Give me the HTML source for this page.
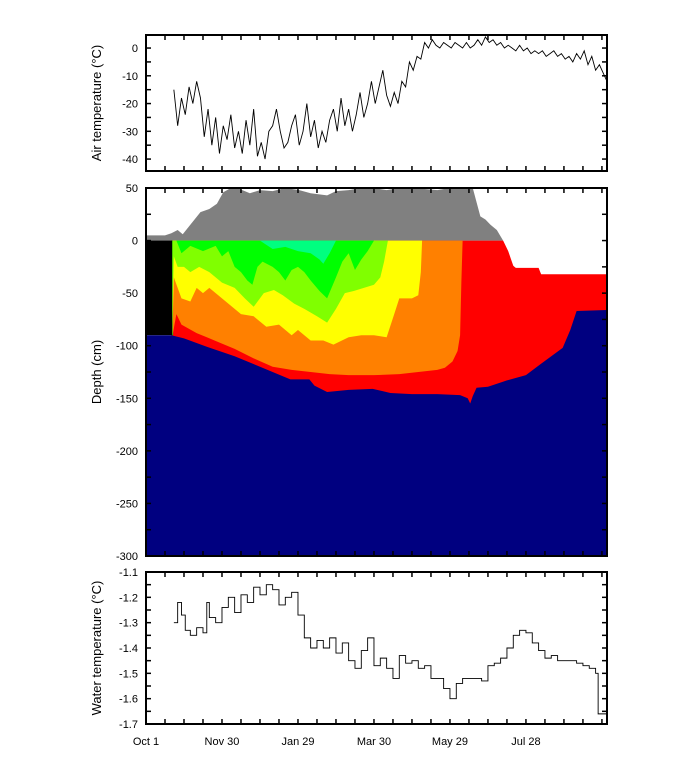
<!DOCTYPE html>
<html><head><meta charset="utf-8"><style>
html,body{margin:0;padding:0;background:#fff;width:681px;height:783px;overflow:hidden}
text{font-family:"Liberation Sans",Arial,sans-serif;font-size:11px;fill:#000}
.t{font-size:13px}
</style></head><body>
<svg id="c" width="681" height="783" viewBox="0 0 681 783"></svg>
<script>
// ---------- data ----------
const xTickDays=[0,60,120,180,240,300];
const xTickLabels=["Oct 1","Nov 30","Jan 29","Mar 30","May 29","Jul 28"];
const airDays=[22,25,28,31,34,37,40,43,46,49,52,55,58,61,64,67,70,73,76,79,82,85,88,91,94,97,100,103,106,109,112,115,118,121,124,127,130,133,136,139,142,145,148,151,154,157,160,163,166,169,172,175,178,181,184,187,190,193,196,199,202,205,208,211,214,217,220,223,226,229,232,235,238,241,244,247,250,253,256,259,262,265,268,271,274,277,280,283,286,289,292,295,298,301,304,307,310,313,316,319,322,325,328,331,334,337,340,343,346,349,352,355,358,361,364];
const airTemp=[-15,-28,-18,-24,-14,-20,-12,-18,-32,-22,-35,-25,-38,-28,-33,-24,-36,-30,-38,-26,-35,-22,-39,-34,-40,-30,-28,-22,-30,-36,-34,-28,-24,-35,-30,-20,-32,-26,-36,-30,-34,-26,-22,-30,-18,-28,-22,-30,-24,-16,-25,-20,-12,-20,-14,-8,-17,-21,-16,-20,-12,-14,-5,-8,-3,-4,2,0,3,1,0,2,1,0,2,1,0,2,0,1,3,1,4,2,3,1,2,0,1,0,-1,1,-1,0,-2,-1,-2,-1,-3,-2,-1,-3,-2,-4,-3,-5,-2,-4,-1,-6,-3,-8,-6,-9,-12];
const waterDays=[22,25,28,31,35,40,45,48,50,55,60,65,70,75,80,85,90,95,100,105,110,115,120,125,130,135,140,145,150,155,160,165,170,175,180,185,190,195,200,205,210,215,220,225,230,235,240,245,250,255,260,265,270,275,280,285,290,295,300,305,310,315,320,325,330,335,340,345,350,355,357,359,364];
const waterTemp=[-1.3,-1.22,-1.27,-1.33,-1.35,-1.32,-1.34,-1.22,-1.28,-1.3,-1.24,-1.2,-1.26,-1.19,-1.22,-1.16,-1.19,-1.15,-1.17,-1.23,-1.2,-1.18,-1.27,-1.36,-1.4,-1.37,-1.4,-1.36,-1.42,-1.38,-1.45,-1.48,-1.41,-1.36,-1.47,-1.44,-1.48,-1.52,-1.43,-1.46,-1.45,-1.48,-1.47,-1.52,-1.52,-1.56,-1.6,-1.54,-1.52,-1.52,-1.52,-1.53,-1.47,-1.46,-1.44,-1.4,-1.35,-1.33,-1.34,-1.38,-1.41,-1.44,-1.43,-1.45,-1.45,-1.45,-1.46,-1.47,-1.48,-1.5,-1.66,-1.66,-1.67];
const snowDays=[0,15,20,25,29,35,43,50,56,61,67,72,78,82,90,100,110,121,130,143,150,160,170,179,190,200,210,220,230,240,250,258,264,268,272,277,282];
const snowTop=[5,5,7,10,6,15,27,30,35,46,50,50,47,45,48,47,50,48,45,43,47,48,50,50,48,50,50,49,48,50,50,50,23,20,15,10,0];
const redTopDays=[0,282,286,290,292,310,312,364];
const redTop=[0,0,-10,-24,-26,-26,-32,-32];
const iceDays=[0,20,30,48,70,90,114,120,129,133,143,160,179,193,210,230,248,254,256,258,261,270,285,300,311,320,329,335,340,364];
const iceBottom=[-90,-90,-93,-101,-110,-120,-132,-132,-132,-138,-144,-142,-141,-145,-146,-146,-147,-150,-155,-148,-140,-139,-133,-128,-118,-110,-102,-85,-67,-66];
const orangeDays=[21,24,28,40,48,60,70,85,100,115,130,145,160,180,200,215,230,236,242,246,248,249,250];
const orangeBottom=[-90,-70,-80,-88,-92,-98,-103,-112,-120,-123,-125,-127,-128,-128,-127,-125,-123,-121,-115,-105,-90,-40,0];
const yellowDays=[21,22,28,35,40,45,50,55,65,75,85,95,105,115,120,130,140,148,160,170,180,190,196,200,210,215,217,218];
const yellowBottom=[-80,-35,-55,-58,-45,-50,-45,-50,-60,-70,-72,-82,-80,-90,-85,-95,-95,-99,-92,-90,-90,-92,-70,-55,-55,-52,-30,0];
const limeDays=[21,22,25,30,35,42,50,60,70,78,85,93,101,108,117,125,135,143,150,157,164,172,180,185,188,191];
const limeBottom=[-60,-15,-25,-25,-30,-25,-30,-40,-45,-55,-63,-50,-47,-52,-60,-65,-72,-78,-65,-50,-48,-45,-42,-35,-20,0];
const greenDays=[24,28,35,45,55,60,65,70,75,80,84,88,92,100,105,110,115,120,125,130,137,143,150,155,160,165,170,175,180];
const greenBottom=[0,-12,-5,-10,-5,-15,-10,-25,-30,-38,-42,-25,-20,-25,-30,-38,-28,-25,-30,-38,-48,-55,-35,-20,-12,-28,-18,-10,0];
const springDays=[90,100,110,120,130,137,140,145,150];
const springBottom=[0,-8,-6,-10,-12,-18,-22,-12,0];

// ---------- helpers ----------
const svg=document.getElementById('c');
const NS='http://www.w3.org/2000/svg';
const X0=146,X1=607,D0=0,D1=364;
const xs=d=>X0+(d-D0)/(D1-D0)*(X1-X0);
function mk(tag,attrs,parent){const e=document.createElementNS(NS,tag);for(const k in attrs)e.setAttribute(k,attrs[k]);(parent||svg).appendChild(e);return e;}
const panels={
 air:{top:35,bot:171,vmin:-44.3,vmax:4.7},
 depth:{top:188,bot:556,vmin:-300,vmax:50},
 water:{top:572,bot:724,vmin:-1.7,vmax:-1.1}
};
function ys(p,v){const P=panels[p];return P.bot-(v-P.vmin)/(P.vmax-P.vmin)*(P.bot-P.top);}
function interp(days,vals,d){if(d<=days[0])return vals[0];for(let i=1;i<days.length;i++){if(d<=days[i]){const t=(d-days[i-1])/(days[i]-days[i-1]);return vals[i-1]+t*(vals[i]-vals[i-1]);}}return vals[vals.length-1];}

const defs=mk('defs',{});
const cp=mk('clipPath',{id:'cpd'},defs);
mk('rect',{x:X0,y:panels.depth.top,width:X1-X0,height:panels.depth.bot-panels.depth.top},cp);
const gD=mk('g',{'clip-path':'url(#cpd)'});



function band(days,vals,topFn,fill,name){
  let pts=days.map((d,i)=>xs(d)+','+ys('depth',vals[i]));
  let back=days.slice().reverse().map(d=>xs(d)+','+ys('depth',topFn(d)));
  const p=mk('polygon',{points:pts.concat(back).join(' '),fill:fill},gD);
  
  
}
band(snowDays,snowTop,()=>0,'#808080','snow-layer');
{
 const ds=[];for(let d=20;d<=364;d+=1)ds.push(d);
 const top=ds.map(d=>interp(redTopDays,redTop,d));
 const pts=ds.map((d,i)=>xs(d)+','+ys('depth',top[i]));
 pts.push(xs(364)+','+ys('depth',-300),xs(20)+','+ys('depth',-300));
 const p=mk('polygon',{points:pts.join(' '),fill:'#ff0000'},gD);
 
 
}
{
 const r=mk('rect',{x:X0,y:ys('depth',0),width:xs(21)-X0,height:ys('depth',-90)-ys('depth',0),fill:'#000'},gD);
 
 
 const l=mk('line',{x1:xs(21),x2:xs(21),y1:ys('depth',0),y2:ys('depth',-90),stroke:'#00c000','stroke-width':1},gD);
 
 
}
band(orangeDays,orangeBottom,()=>0,'#ff8000','isotherm-orange');
band(yellowDays,yellowBottom,()=>0,'#ffff00','isotherm-yellow');
band(limeDays,limeBottom,()=>0,'#80ff00','isotherm-lime');
band(greenDays,greenBottom,()=>0,'#00ff00','isotherm-green');
band(springDays,springBottom,()=>0,'#00ff80','isotherm-spring');
{
 const pts=iceDays.map((d,i)=>xs(d)+','+ys('depth',iceBottom[i]));
 pts.push(xs(364)+','+ys('depth',-300),xs(0)+','+ys('depth',-300));
 const p=mk('polygon',{points:pts.join(' '),fill:'#000080'},gD);
 
 
}

function line(p,days,vals,name,step){
  let pts=[];
  days.forEach((d,i)=>{
    if(step&&i>0)pts.push(xs(d)+','+ys(p,vals[i-1]));
    pts.push(xs(d)+','+ys(p,vals[i]));
  });
  const e=mk('polyline',{points:pts.join(' '),fill:'none',stroke:'#000','stroke-width':0.9});
  
  
}
line('air',airDays,airTemp,'air-temperature-line',false);
line('water',waterDays,waterTemp,'water-temperature-line',true);

function frame(p,minorStep,majorStep,fmt,name){
  const P=panels[p];
  const g=mk('g',{});
  
  
  mk('rect',{x:X0,y:P.top,width:X1-X0,height:P.bot-P.top,fill:'none',stroke:'#000','stroke-width':2},g);
  for(let d=15;d<364;d+=15){
    const x=xs(d);
    mk('line',{x1:x,x2:x,y1:P.top,y2:P.top+5,stroke:'#000','stroke-width':1.5},g);
    mk('line',{x1:x,x2:x,y1:P.bot,y2:P.bot-5,stroke:'#000','stroke-width':1.5},g);
  }
  const start=Math.ceil(P.vmin/minorStep-1e-9);
  for(let k=start;k*minorStep<=P.vmax+1e-9;k++){
    const v=k*minorStep;const y=ys(p,v);
    mk('line',{x1:X0,x2:X0+5,y1:y,y2:y,stroke:'#000','stroke-width':1.5},g);
    mk('line',{x1:X1,x2:X1-5,y1:y,y2:y,stroke:'#000','stroke-width':1.5},g);
    if(Math.abs(v/majorStep-Math.round(v/majorStep))<1e-6){
      const t=mk('text',{x:X0-8,y:y+4,'text-anchor':'end'},g);t.textContent=fmt(v);
    }
  }
}
frame('air',5,10,v=>String(Math.round(v)),'air-temperature-panel');
frame('depth',25,50,v=>String(Math.round(v)),'depth-panel');
frame('water',0.05,0.1,v=>v.toFixed(1),'water-temperature-panel');

xTickDays.forEach((d,i)=>{
  const t=mk('text',{x:xs(d),y:745,'text-anchor':'middle'});
  t.textContent=xTickLabels[i];
  
  
});
function ytitle(txt,cy,name){
  const t=mk('text',{x:0,y:0,'text-anchor':'middle',class:'t',transform:'translate(101,'+cy+') rotate(-90)'});
  t.textContent=txt;
  
  
}
ytitle('Air temperature (°C)',103,'air-y-axis-title');
ytitle('Depth (cm)',372,'depth-y-axis-title');
ytitle('Water temperature (°C)',648,'water-y-axis-title');
</script>
</body></html>
